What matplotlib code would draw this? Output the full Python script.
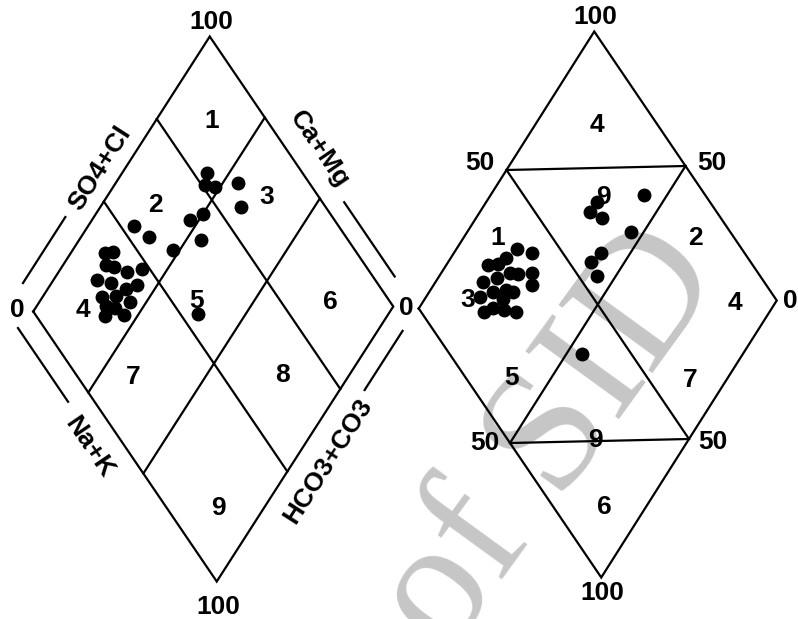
import numpy as np
import matplotlib.pyplot as plt
from matplotlib.transforms import Affine2D

plt.rcParams['font.family'] = ['Liberation Sans', 'DejaVu Sans']
plt.rcParams['font.weight'] = 'bold'

# left diamond samples: SO4+Cl (%) along the upper-left side, Na+K (%) along the lower-left side
left_so4cl = [30.7, 33.1, 28.7, 30.5, 33.2, 37.9, 23.4, 26.7, 29.7, 33.5, 21.6, 25.7, 28.4, 21.0, 23.1,
              24.3, 18.9, 43.7, 45.8, 50.0, 59.5, 60.2, 64.9, 73.7, 70.9, 73.3, 80.4, 76.7, 44.9]
left_nak = [9.6, 11.6, 12.0, 14.6, 19.2, 22.8, 12.2, 16.7, 22.0, 24.3, 16.7, 20.4, 25.4, 19.4, 22.3,
            26.1, 20.9, 12.9, 19.0, 28.1, 34.2, 27.5, 30.0, 23.8, 25.4, 28.5, 34.3, 39.4, 46.6]

# right diamond samples, same two axes
right_so4cl = [38.1, 41.5, 33.4, 30.1, 27.2, 31.7, 33.8, 37.8, 22.6, 27.2, 35.5, 23.5, 27.5, 29.0, 19.0,
               24.9, 17.3, 20.5, 23.2, 26.1, 83.2, 68.9, 65.1, 67.3, 72.7, 60.5, 56.1, 55.1, 36.4]
right_nak = [17.2, 22.1, 15.7, 14.5, 11.8, 19.5, 21.9, 25.7, 13.5, 16.7, 27.9, 18.1, 21.4, 23.7, 15.3,
             22.2, 19.1, 20.9, 24.4, 28.2, 43.5, 31.4, 31.2, 35.7, 46.4, 41.7, 40.5, 44.7, 54.4]

left_grid_so4cl = [40, 70]
left_grid_nak = [30, 60]

left_zone_labels = ['1', '2', '3', '4', '5', '6', '7', '8', '9']
left_zone_pos = [(212, 121), (155, 205), (267, 197), (83, 310), (197, 301),
                 (330, 302), (133, 377), (282, 375), (218, 508)]
left_corner_labels = ['100', '0', '0', '100']
left_corner_pos = [(211, 22), (17, 310), (406, 308), (218, 607)]

right_zone_labels = ['4', '9', '1', '2', '3', '4', '5', '7', '9', '6']
right_zone_pos = [(597, 125), (603, 197), (498, 238), (695, 238), (468, 300),
                  (735, 303), (512, 378), (690, 380), (595, 440), (604, 507)]
right_corner_labels = ['100', '50', '50', '0', '50', '50', '100']
right_corner_pos = [(595, 17), (480, 163), (712, 163), (790, 301), (485, 443), (713, 442), (602, 593)]


def diamond_transform(ax, L, T, B):
    # (p, q) in percent -> pixel position on the page
    a = (np.array(T) - np.array(L)) / 100.0
    b = (np.array(B) - np.array(L)) / 100.0
    m = np.array([[a[0], b[0], L[0]], [a[1], b[1], L[1]], [0, 0, 1]])
    return Affine2D(m) + ax.transData


fig = plt.figure(figsize=(7.98, 6.19), dpi=100)
ax = fig.add_axes([0, 0, 1, 1])
ax.set_xlim(0, 798)
ax.set_ylim(619, 0)
ax.axis('off')

# watermark
ax.text(552, 440, 'of SID', fontsize=126, family='Liberation Serif', fontweight='normal',
        color='#c6c6c6', rotation=54, ha='center', va='center', zorder=0)

lw = 1.6
kw = dict(color='black', lw=lw, zorder=2, solid_joinstyle='miter')
fs = 19

# ---- left diamond
trL = diamond_transform(ax, (33.25, 311.5), (209.75, 36.5), (216.75, 581.5))
ax.plot([0, 100, 100, 0, 0], [0, 0, 100, 100, 0], transform=trL, **kw)
for g in left_grid_so4cl:
    ax.plot([g, g], [0, 100], transform=trL, **kw)
for g in left_grid_nak:
    ax.plot([0, 100], [g, g], transform=trL, **kw)
ax.plot(left_so4cl, left_nak, 'o', color='black', ms=9, transform=trL, zorder=3)

# side captions with their guide bars
ax.plot([2.5, 26.5], [-8, -8], transform=trL, **kw)
ax.plot([106, 106], [67.5, 95], transform=trL, **kw)
ax.plot([-7.3, -7.3], [-1.3, 26], transform=trL, **kw)
ax.plot([76.5, 98], [107, 107], transform=trL, **kw)
for txt, pq, rot in [('SO4+Cl', (45, -7), 57.3), ('Ca+Mg', (109, 51), -55.8),
                     ('Na+K', (-10, 40), -55.8), ('HCO3+CO3', (53, 109.5), 57.3)]:
    x, y = trL.transform(pq)
    x, y = ax.transData.inverted().transform((x, y))
    ax.text(x, y, txt, fontsize=fs, rotation=rot, rotation_mode='anchor',
            ha='center', va='center')

for lab, (x, y) in zip(left_zone_labels, left_zone_pos):
    ax.text(x, y, lab, fontsize=fs, ha='center', va='center')
for lab, (x, y) in zip(left_corner_labels, left_corner_pos):
    ax.text(x, y, lab, fontsize=fs, ha='center', va='center')

# ---- right diamond
trR = diamond_transform(ax, (418.75, 308.5), (594.25, 31.5), (601.25, 577.5))
ax.plot([0, 100, 100, 0, 0], [0, 0, 100, 100, 0], transform=trR, **kw)
ax.plot([50, 100], [0, 50], transform=trR, **kw)
ax.plot([0, 50], [50, 100], transform=trR, **kw)
ax.plot([50, 50], [0, 100], transform=trR, **kw)
ax.plot([0, 100], [50, 50], transform=trR, **kw)
ax.plot(right_so4cl, right_nak, 'o', color='black', ms=9, transform=trR, zorder=3)

for lab, (x, y) in zip(right_zone_labels, right_zone_pos):
    ax.text(x, y, lab, fontsize=fs, ha='center', va='center')
for lab, (x, y) in zip(right_corner_labels, right_corner_pos):
    ax.text(x, y, lab, fontsize=fs, ha='center', va='center')

fig.savefig('out.png', dpi=100)
